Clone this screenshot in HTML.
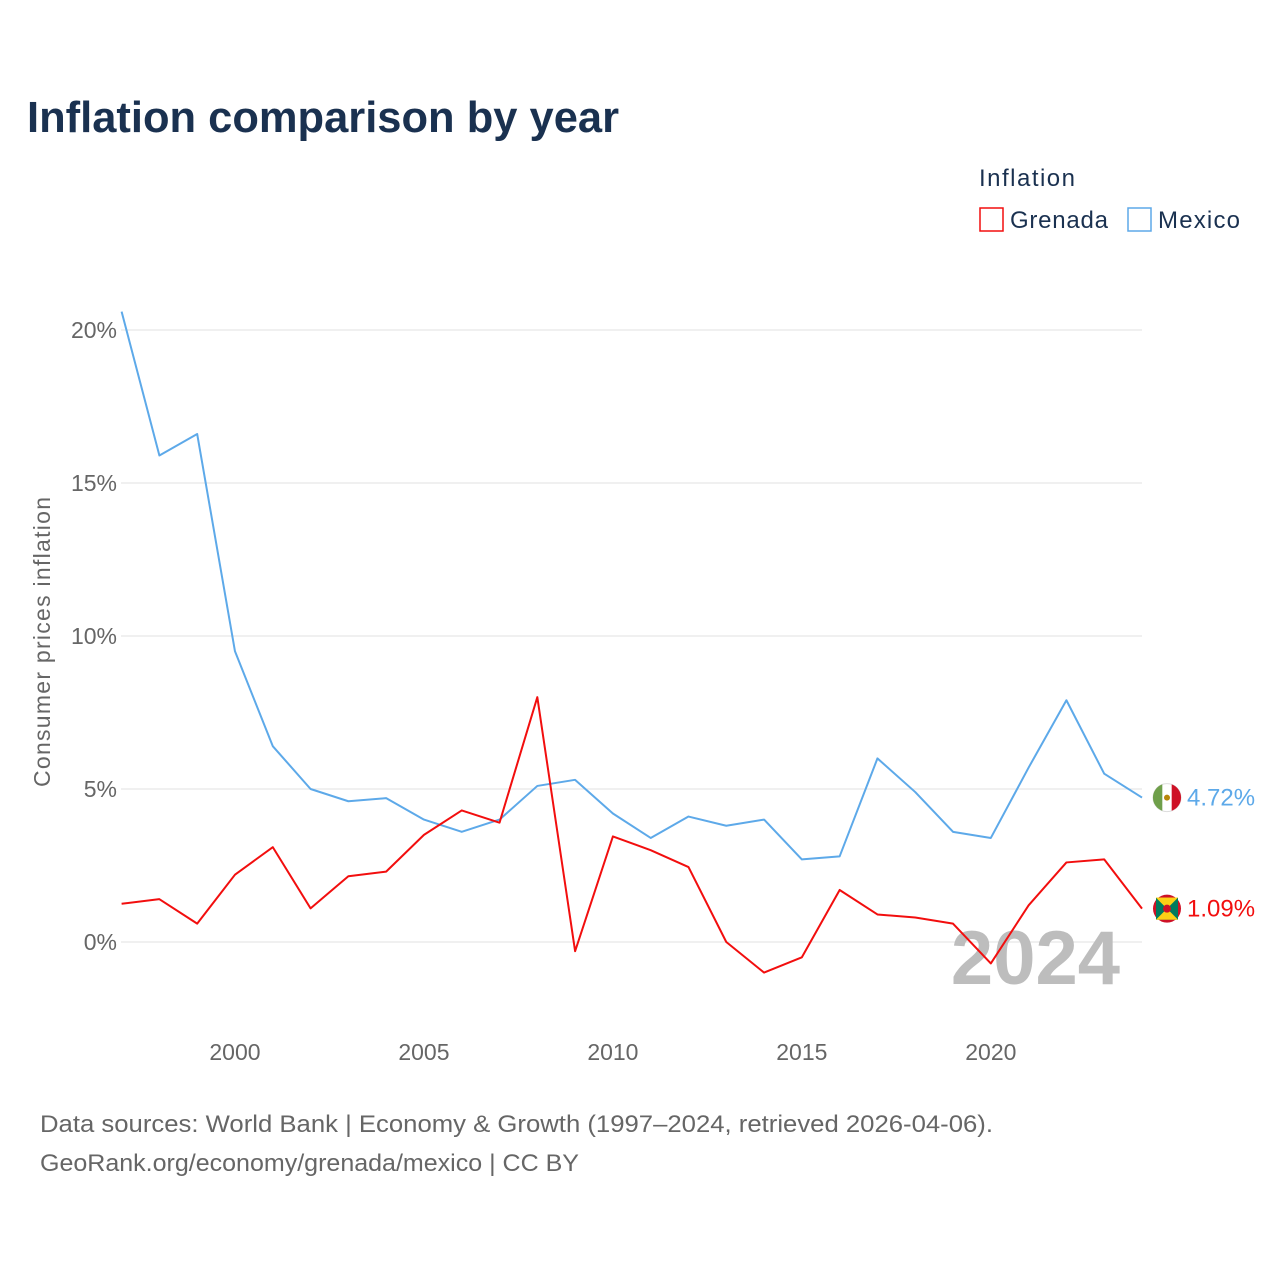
<!DOCTYPE html>
<html><head><meta charset="utf-8"><style>
body{margin:0;background:#fff;font-family:"Liberation Sans",sans-serif}
</style></head><body>
<svg id="c" width="1280" height="1280" xmlns="http://www.w3.org/2000/svg" style="font-family:'Liberation Sans',sans-serif">
<text x="27" y="132" font-size="44" font-weight="bold" fill="#1a3150" textLength="592" lengthAdjust="spacingAndGlyphs">Inflation comparison by year</text>
<text x="979" y="186" font-size="24" fill="#1a3150" textLength="96">Inflation</text>
<g><rect x="980" y="208" width="23" height="23" fill="none" stroke="#f20e0e" stroke-width="1.5"/><text x="1010" y="228" font-size="24" fill="#1a3150" textLength="98">Grenada</text></g>
<g><rect x="1128" y="208" width="23" height="23" fill="none" stroke="#5da9e9" stroke-width="1.5"/><text x="1158" y="228" font-size="24" fill="#1a3150" textLength="82">Mexico</text></g>
<g id="grid"></g>
<text transform="translate(50,642) rotate(-90)" text-anchor="middle" font-size="23" fill="#666" textLength="290">Consumer prices inflation</text>
<text x="1120" y="984" text-anchor="end" font-size="76" font-weight="bold" fill="#bdbdbd">2024</text>
<g id="series"></g>
<text x="40" y="1132" font-size="24" fill="#666" textLength="953" lengthAdjust="spacingAndGlyphs">Data sources: World Bank | Economy &amp; Growth (1997–2024, retrieved 2026-04-06).</text>
<text x="40" y="1171" font-size="24" fill="#666" textLength="539" lengthAdjust="spacingAndGlyphs">GeoRank.org/economy/grenada/mexico | CC BY</text>
</svg>
<script>
const years=[1997,1998,1999,2000,2001,2002,2003,2004,2005,2006,2007,2008,2009,2010,2011,2012,2013,2014,2015,2016,2017,2018,2019,2020,2021,2022,2023,2024];
const mexico=[20.6,15.9,16.6,9.5,6.4,5.0,4.6,4.7,4.0,3.6,4.0,5.1,5.3,4.2,3.4,4.1,3.8,4.0,2.7,2.8,6.0,4.9,3.6,3.4,5.7,7.9,5.5,4.72];
const grenada=[1.25,1.4,0.6,2.2,3.1,1.1,2.15,2.3,3.5,4.3,3.9,8.0,-0.3,3.45,3.0,2.45,0.0,-1.0,-0.5,1.7,0.9,0.8,0.6,-0.7,1.2,2.6,2.7,1.09];
const yTicks=[0,5,10,15,20];
const xTicks=[2000,2005,2010,2015,2020];
const NS="http://www.w3.org/2000/svg";
const x=v=>121.6+(v-1997)*(1142-121.6)/27;
const y=v=>942-v*30.6;
const grid=document.getElementById('grid'),ser=document.getElementById('series');
function mk(t,a,p){const e=document.createElementNS(NS,t);for(const k in a)e.setAttribute(k,a[k]);p.appendChild(e);return e;}
yTicks.forEach(t=>{
 const l=mk('line',{x1:121,x2:1142,y1:y(t),y2:y(t),stroke:'#e6e6e6','stroke-width':1.2},grid);
 
 
 const tx=mk('text',{x:117,y:y(t)+8,'text-anchor':'end','font-size':23,fill:'#666'},grid);tx.textContent=t+'%';
 
 
});
xTicks.forEach(t=>{
 const tx=mk('text',{x:x(t),y:1060,'text-anchor':'middle','font-size':23,fill:'#666'},grid);tx.textContent=t;
 
 
});
function line(vals,col,name){
 const p=mk('polyline',{points:vals.map((v,i)=>x(years[i])+','+y(v)).join(' '),fill:'none',stroke:col,'stroke-width':2,'stroke-linejoin':'round'},ser);
 
 
 const last=vals[vals.length-1],cx=x(years[years.length-1])+25,cy=y(last);
 const g=mk('g',{},ser);
 
 
 if(name==='mexico'){
  mk('circle',{cx:cx,cy:cy,r:14,fill:'#fff',stroke:'#ddd'},g);
  mk('path',{d:`M${cx-4.7},${cy-13.2} A14,14 0 0 0 ${cx-4.7},${cy+13.2} Z`,fill:'#6f9f4a'},g);
  mk('path',{d:`M${cx+4.7},${cy-13.2} A14,14 0 0 1 ${cx+4.7},${cy+13.2} Z`,fill:'#ce1126'},g);
  mk('circle',{cx:cx,cy:cy,r:3,fill:'#b8860b'},g);
 }else{
  mk('circle',{cx:cx,cy:cy,r:14,fill:'#ce1126'},g);
  mk('rect',{x:cx-11,y:cy-11,width:22,height:22,fill:'#fcd116'},g);
  mk('path',{d:`M${cx-11},${cy-11}L${cx+11},${cy+11}L${cx-11},${cy+11}Z`,fill:'#007a5e'},g);
  mk('path',{d:`M${cx+11},${cy-11}L${cx-11},${cy+11}L${cx+11},${cy+11}Z`,fill:'#fcd116'},g);
  mk('path',{d:`M${cx-11},${cy-11}L${cx+11},${cy-11}L${cx},${cy}Z`,fill:'#fcd116'},g);
  mk('path',{d:`M${cx+11},${cy-11}L${cx+11},${cy+11}L${cx},${cy}Z`,fill:'#007a5e'},g);
  mk('circle',{cx:cx,cy:cy,r:4,fill:'#ce1126'},g);
 }
 const tx=mk('text',{x:cx+20,y:cy+8,'font-size':24,fill:col},ser);tx.textContent=last.toFixed(2)+'%';
 
 
}
line(mexico,'#5da9e9','mexico');
line(grenada,'#f20e0e','grenada');
</script>
</body></html>
